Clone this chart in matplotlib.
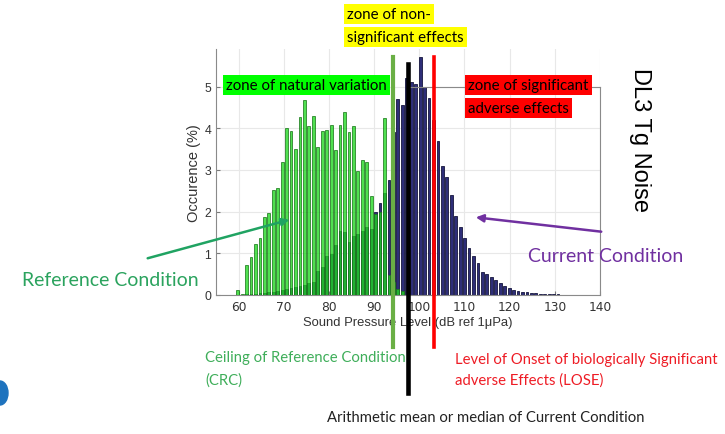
import numpy as np
import matplotlib
matplotlib.use('Agg')
import matplotlib.pyplot as plt
from matplotlib.patches import FancyArrowPatch, Ellipse

# histogram bins (dB) and occurrence (%)
bin_start = 59.8
bin_step = 0.985
reference = [0.12, 0.02, 0.72, 0.92, 1.23, 1.36, 1.86, 1.97, 2.52, 2.56,
             3.18, 4.00, 3.93, 3.50, 4.28, 4.68, 4.05, 4.30, 3.55, 3.93,
             3.95, 4.08, 3.48, 4.08, 4.38, 3.92, 4.05, 2.97, 3.24, 3.20,
             2.38, 1.95, 2.00, 4.24, 0.48, 0.30, 0.15, 0.10]
current = [0.00, 0.01, 0.02, 0.02, 0.03, 0.04, 0.05, 0.06, 0.08, 0.10,
           0.12, 0.15, 0.17, 0.20, 0.22, 0.25, 0.28, 0.31, 0.58, 0.67,
           0.94, 0.98, 1.20, 1.54, 1.50, 1.27, 1.42, 1.46, 1.54, 1.62,
           1.58, 2.00, 2.20, 2.45, 2.75, 3.90, 4.70, 4.55, 5.20, 5.12,
           5.05, 5.70, 4.98, 4.72, 4.20, 3.70, 3.10, 2.82, 2.40, 1.90,
           1.62, 1.36, 1.12, 0.94, 0.76, 0.56, 0.50, 0.42, 0.35, 0.28,
           0.22, 0.17, 0.13, 0.10, 0.08, 0.06, 0.05, 0.04, 0.03, 0.03,
           0.02, 0.02, 0.02, 0.01, 0.01, 0.01]

crc_level = 94.1      # Ceiling of Reference Condition
mean_level = 97.6     # mean / median of current condition
lose_level = 103.3    # onset of significant adverse effects

x_ticks = [60, 70, 80, 90, 100, 110, 120, 130, 140]
y_ticks = [0, 1, 2, 3, 4, 5]

W, H = 725, 435


def fx(x):
    return x / W


def fy(y):
    return 1 - y / H


fig = plt.figure(figsize=(7.25, 4.35), dpi=100)
ax = fig.add_axes([fx(216), fy(296), fx(600 - 216), (296 - 50) / H])

x_ref = bin_start + bin_step * np.arange(len(reference))
x_cur = bin_start + bin_step * np.arange(len(current))

ax.bar(x_cur, current, width=0.62, color='#2e2e78', edgecolor='#15153d',
       linewidth=0.6, zorder=2)
ax.bar(x_ref, reference, width=0.62, color='#1fd81f', edgecolor='#1d7a1d',
       linewidth=0.7, alpha=0.78, zorder=3)

ax.set_xlim(55, 140)
ax.set_ylim(0, 5.9)
ax.set_xticks(x_ticks)
ax.set_yticks(y_ticks)
ax.grid(True, color='#e8e8e8', linewidth=0.8, zorder=0)
ax.set_axisbelow(True)

ax.tick_params(direction='in', length=3, colors='#7a7a7a', labelcolor='#333333',
               labelsize=8.8)
for lab in ax.get_xticklabels() + ax.get_yticklabels():
    lab.set_family('Liberation Sans')
ax.set_xlabel('Sound Pressure Level (dB ref 1μPa)', family='Liberation Sans',
              size=9.4, color='#333333', labelpad=2)
ax.set_ylabel('Occurence (%)', family='Liberation Sans', size=10.5,
              color='#333333', labelpad=2)

for side in ['left', 'bottom', 'right', 'top']:
    ax.spines[side].set_color('#8a8a8a')
    ax.spines[side].set_linewidth(0.8)
ax.spines['right'].set_bounds(0, 5)
ax.spines['top'].set_position(('data', 5))
ax.spines['top'].set_bounds(98, 140)

# threshold lines, running past the axes
ax.axvline(crc_level, ymin=-0.21, ymax=0.967, color='#6aaf45', lw=3.0,
           clip_on=False, zorder=6)
ax.axvline(mean_level, ymin=-0.40, ymax=0.94, color='black', lw=3.3,
           clip_on=False, zorder=6)
ax.axvline(lose_level, ymin=-0.21, ymax=0.967, color='#ff0000', lw=2.6,
           clip_on=False, zorder=6)

cal = 'Lato'
hl = dict(boxstyle='square,pad=0.22', ec='none')
zsize = 10.8

# zone labels (highlighted)
fig.text(fx(347), fy(15), 'zone of non-', family=cal, size=zsize, va='center',
         bbox=dict(fc='#ffff00', **hl))
fig.text(fx(347), fy(38), 'significant effects', family=cal, size=zsize,
         va='center', bbox=dict(fc='#ffff00', **hl))
fig.text(fx(226), fy(86), 'zone of natural variation', family=cal, size=zsize,
         va='center', bbox=dict(fc='#00ff00', **hl))
fig.text(fx(468), fy(86), 'zone of significant', family=cal, size=zsize,
         va='center', bbox=dict(fc='#ff0000', **hl))
fig.text(fx(468), fy(109), 'adverse effects', family=cal, size=zsize,
         va='center', bbox=dict(fc='#ff0000', **hl))

fig.text(fx(640), fy(140), 'DL3 Tg Noise', family='Liberation Sans', size=17,
         rotation=270, ha='center', va='center')

# condition labels with arrows
fig.text(fx(22), fy(280), 'Reference Condition', family=cal, size=14,
         color='#2ba35e', va='center')
fig.add_artist(FancyArrowPatch((fx(145), fy(260)), (fx(292), fy(220)),
                               transform=fig.transFigure, arrowstyle='-|>',
                               mutation_scale=11, lw=1.8, color='#20a362'))
fig.text(fx(528), fy(257), 'Current Condition', family=cal, size=14,
         color='#7030a0', va='center')
fig.add_artist(FancyArrowPatch((fx(604), fy(233)), (fx(473), fy(218)),
                               transform=fig.transFigure, arrowstyle='-|>',
                               mutation_scale=11, lw=1.8, color='#7030a0'))

# line captions
fig.text(fx(205), fy(358), 'Ceiling of Reference Condition', family=cal,
         size=10.7, color='#3fae5a', va='center')
fig.text(fx(205), fy(381), '(CRC)', family=cal, size=10.7, color='#3fae5a',
         va='center')
fig.text(fx(455), fy(360), 'Level of Onset of biologically Significant',
         family=cal, size=10.7, color='#ee1c25', va='center')
fig.text(fx(455), fy(381), 'adverse Effects (LOSE)', family=cal, size=10.7,
         color='#ee1c25', va='center')
fig.text(fx(327), fy(418), 'Arithmetic mean or median of Current Condition',
         family=cal, size=10.7, color='#222222', va='center')

# bit of a blue shape cut off at the left edge
fig.add_artist(Ellipse((0, fy(394)), fx(16), 24 / H, transform=fig.transFigure,
                       color='#1e73be'))

fig.savefig('out.png', dpi=100)
